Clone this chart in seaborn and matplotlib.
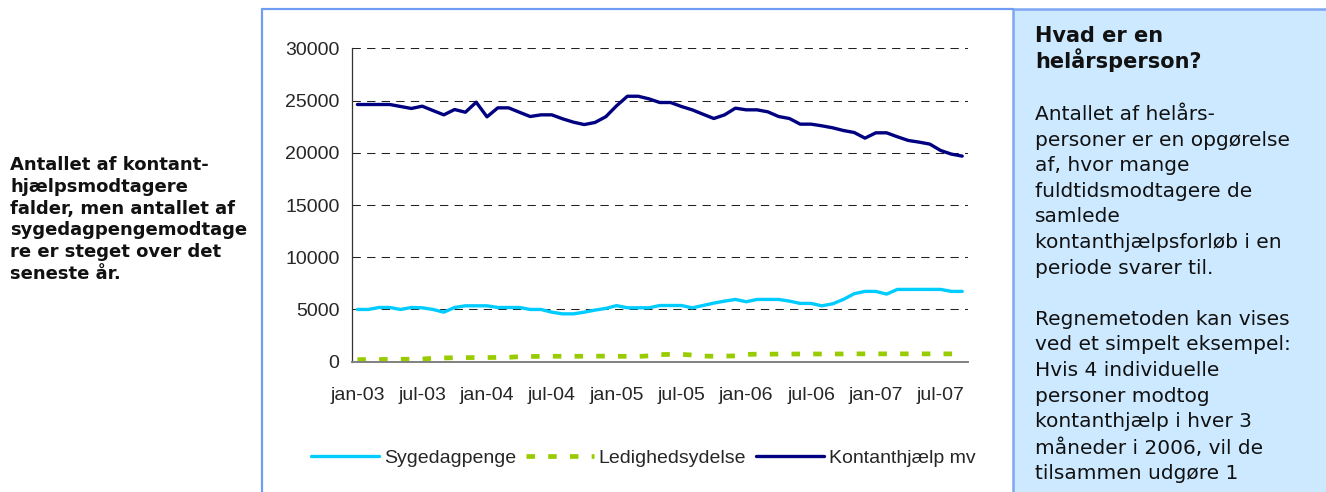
import numpy as np
import pandas as pd
import seaborn as sns
import matplotlib.pyplot as plt
from matplotlib.lines import Line2D
from matplotlib.patches import Rectangle

# Monthly values, jan-03 .. sep-07
sygedagpenge = [5000, 5000, 5190, 5190, 5000, 5190, 5160, 5000, 4740, 5190, 5350, 5350,
                5350, 5190, 5190, 5190, 5000, 5000, 4740, 4580, 4580, 4740, 4940, 5100,
                5370, 5160, 5160, 5160, 5380, 5380, 5380, 5160, 5380, 5610, 5800, 5960,
                5740, 5960, 5960, 5960, 5800, 5580, 5580, 5350, 5540, 5960, 6510, 6730,
                6730, 6470, 6920, 6920, 6920, 6920, 6920, 6730, 6730]
ledighedsydelse = [200, 200, 210, 220, 230, 240, 250, 330, 360, 380, 390, 400,
                   400, 410, 420, 480, 500, 510, 520, 520, 520, 520, 530, 530,
                   520, 510, 500, 560, 680, 700, 700, 640, 540, 520, 530, 560,
                   700, 720, 720, 730, 730, 740, 740, 740, 740, 740, 750, 750,
                   750, 750, 750, 750, 750, 750, 750, 750, 750]
kontanthjaelp = [24620, 24620, 24620, 24620, 24430, 24240, 24460, 24040, 23630, 24140, 23880, 24840,
                 23440, 24300, 24300, 23880, 23470, 23630, 23630, 23250, 22930, 22700, 22900, 23450,
                 24500, 25410, 25410, 25160, 24810, 24810, 24430, 24110, 23690, 23280, 23630, 24270,
                 24110, 24110, 23920, 23470, 23280, 22740, 22740, 22580, 22390, 22130, 21940, 21400,
                 21910, 21910, 21530, 21180, 21020, 20830, 20220, 19870, 19680]
tick_labels = ['jan-03', 'jul-03', 'jan-04', 'jul-04', 'jan-05',
               'jul-05', 'jan-06', 'jul-06', 'jan-07', 'jul-07']
series_names = ['Sygedagpenge', 'Ledighedsydelse', 'Kontanthjælp mv']

left_note = ("Antallet af kontant-\nhjælpsmodtagere\nfalder, men antallet af\n"
             "sygedagpengemodtage\nre er steget over det\nseneste år.")
box_title = "Hvad er en\nhelårsperson?"
box_text = ("Antallet af helårs-\npersoner er en opgørelse\naf, hvor mange\n"
            "fuldtidsmodtagere de\nsamlede\nkontanthjælpsforløb i en\nperiode svarer til.\n\n"
            "Regnemetoden kan vises\nved et simpelt eksempel:\nHvis 4 individuelle\n"
            "personer modtog\nkontanthjælp i hver 3\nmåneder i 2006, vil de\ntilsammen udgøre 1")

df = pd.DataFrame({'idx': np.arange(len(kontanthjaelp)),
                   'Sygedagpenge': sygedagpenge,
                   'Ledighedsydelse': ledighedsydelse,
                   'Kontanthjælp mv': kontanthjaelp})

sns.set_style('white')
plt.rcParams['font.family'] = ['Liberation Sans', 'DejaVu Sans']

W, H = 1326, 492
fig = plt.figure(figsize=(W / 100, H / 100), dpi=100)
fig.patch.set_facecolor('white')


def fx(px):
    return px / W


def fy(py):
    return 1 - py / H


# frame around chart and the info box on the right
fig.add_artist(Line2D([fx(262), fx(262)], [fy(9), fy(500)], color='#6f9cf4', lw=1.6,
                      transform=fig.transFigure))
fig.add_artist(Line2D([fx(262), fx(1013)], [fy(9), fy(9)], color='#6f9cf4', lw=1.6,
                      transform=fig.transFigure))
fig.add_artist(Rectangle((fx(1013), fy(500)), fx(330), fy(9) - fy(500), facecolor='#cce9ff',
                         edgecolor='#7ea6f2', lw=1.8, transform=fig.transFigure))

ax = fig.add_axes([fx(352), fy(361.7), fx(967.6 - 352), fy(48.3) - fy(361.7)])
ax.set_facecolor('white')

colors = ['#00ccff', '#99cc00', '#000080']
sns.lineplot(data=df, x='idx', y='Sygedagpenge', color=colors[0], lw=2.4, ax=ax,
             label=series_names[0])
sns.lineplot(data=df, x='idx', y='Ledighedsydelse', color=colors[1], lw=3.4, ax=ax,
             linestyle=(0, (1.8, 2.8)), label=series_names[1])
sns.lineplot(data=df, x='idx', y='Kontanthjælp mv', color=colors[2], lw=2.4, ax=ax,
             label=series_names[2])

ax.set_xlim(-0.5, len(kontanthjaelp) - 0.5)
ax.set_ylim(0, 30000)
ax.set_yticks(range(0, 30001, 5000))
ax.set_yticklabels([str(v) for v in range(0, 30001, 5000)], fontsize=14)
ax.set_xticks(np.arange(len(tick_labels)) * 6 - 0.5)
ax.set_xticklabels([])
ax.set_xticks(np.arange(len(tick_labels)) * 6, minor=True)
ax.set_xticklabels(tick_labels, minor=True, fontsize=14)
ax.tick_params(axis='x', which='major', length=3.6, width=0.9, color='black', direction='out')
ax.tick_params(axis='x', which='minor', length=0, pad=18)
ax.tick_params(axis='y', length=3, width=0.9, color='black', direction='out', pad=6)
ax.set_xlabel('')
ax.set_ylabel('')

ax.yaxis.grid(True, color='#222222', lw=0.75, linestyle=(0, (8, 6)))
ax.xaxis.grid(False)
for s in ['top', 'right']:
    ax.spines[s].set_visible(False)
ax.spines['left'].set_color('#333333')
ax.spines['left'].set_linewidth(0.9)
ax.spines['bottom'].set_color('#808080')
ax.spines['bottom'].set_linewidth(1.4)

ax.legend_.remove()
handles, labels = ax.get_legend_handles_labels()
fig.legend(handles, labels, loc='center', bbox_to_anchor=(fx(643), fy(458)), ncol=3,
           frameon=False, fontsize=14, handlelength=3.5, handletextpad=0.25,
           columnspacing=0.5)

fig.text(fx(10), fy(156), left_note, ha='left', va='top', fontsize=13, fontweight='bold',
         family='DejaVu Sans', linespacing=1.27, color='#111111')
fig.text(fx(1035), fy(26), box_title, ha='left', va='top', fontsize=15, fontweight='bold',
         family='DejaVu Sans', linespacing=1.12, color='#111111')
fig.text(fx(1035), fy(105), box_text, ha='left', va='top', fontsize=14.5,
         family='DejaVu Sans', linespacing=1.44, color='#111111')

fig.savefig('out.png', dpi=100)
